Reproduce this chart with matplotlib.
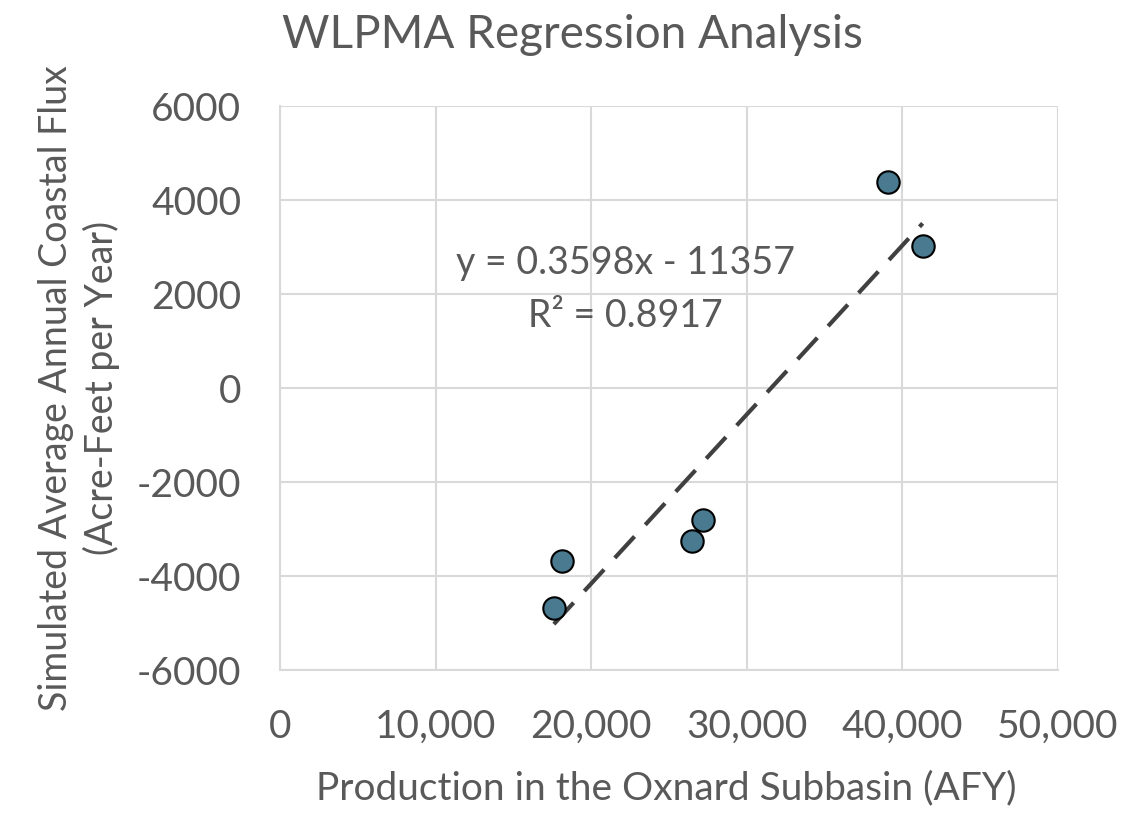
import matplotlib
matplotlib.use("Agg")
import matplotlib.pyplot as plt
import numpy as np
from matplotlib.ticker import FuncFormatter

production = [17600, 18100, 26500, 27200, 39100, 41300]
flux = [-4680, -3690, -3250, -2800, 4380, 3020]
slope = 0.3598
intercept = -11357
r_squared = 0.8917

title = "WLPMA Regression Analysis"
xlabel = "Production in the Oxnard Subbasin (AFY)"
ylabel = "Simulated Average Annual Coastal Flux\n(Acre-Feet per Year)"

plt.rcParams['font.family'] = ['Lato', 'DejaVu Sans']
txt = '#595959'

W, H = 1126, 813
fig = plt.figure(figsize=(W/100, H/100), dpi=100)
ax = fig.add_axes([280/W, 1-670/H, (1058-280)/W, (670-106)/H])

ax.set_xlim(0, 50000)
ax.set_ylim(-6000, 6000)
ax.set_xticks(np.arange(0, 50001, 10000))
ax.set_yticks(np.arange(-6000, 6001, 2000))
ax.xaxis.set_major_formatter(FuncFormatter(lambda v, p: f"{int(v):,}"))
ax.yaxis.set_major_formatter(FuncFormatter(lambda v, p: f"{int(v)}"))
ax.grid(True, color='#D9D9D9', linewidth=1.5)
ax.set_axisbelow(True)
for s in ['top', 'right']:
    ax.spines[s].set_visible(False)
for s in ['left', 'bottom']:
    ax.spines[s].set_color('#D9D9D9')
    ax.spines[s].set_linewidth(1.5)
ax.tick_params(length=0, labelsize=28, labelcolor=txt)
ax.tick_params(axis='y', pad=28)
ax.tick_params(axis='x', pad=28)

xs = np.array([min(production), max(production)])
ax.plot(xs, slope*xs + intercept, color='#404040', linewidth=3, dashes=(7, 3.8), zorder=2)
ax.scatter(production, flux, s=260, color='#4A7A8F', edgecolor='black', linewidth=1.5, zorder=3)

ax.text(22200, 2100, f"y = {slope}x - {abs(intercept)}\nR² = {r_squared}", ha='center', va='center',
        fontsize=27, color=txt, linespacing=1.6)

fig.text(572/W, 1-35/H, title, fontsize=33, color=txt, ha='center', va='center')
fig.text(666/W, 1-788/H, xlabel, fontsize=28, color=txt, ha='center', va='center')
fig.text(79/W, 1-388/H, ylabel, fontsize=27, color=txt, ha='center', va='center',
         rotation=90, linespacing=1.32, multialignment='center')

fig.savefig("out.png", dpi=100)
